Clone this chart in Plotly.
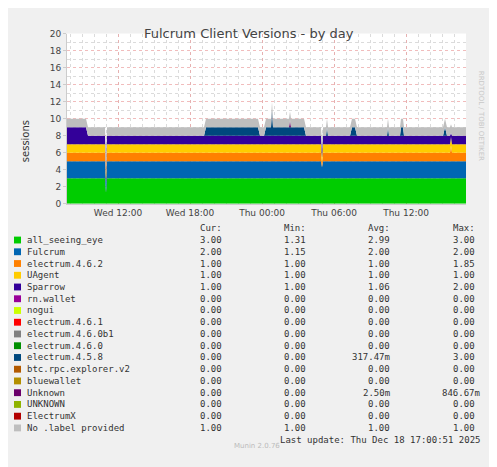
import plotly.graph_objects as go

# change points of the stacked series (5 min RRD steps)
times = ['2025-12-17 07:45', '2025-12-17 09:20', '2025-12-17 09:30', '2025-12-17 10:55', '2025-12-17 11:00',
         '2025-12-17 11:05', '2025-12-17 19:10', '2025-12-17 19:20', '2025-12-17 23:40', '2025-12-17 23:50',
         '2025-12-18 00:10', '2025-12-18 00:20', '2025-12-18 00:45', '2025-12-18 00:50', '2025-12-18 00:55',
         '2025-12-18 02:15', '2025-12-18 02:20', '2025-12-18 02:25', '2025-12-18 03:30', '2025-12-18 03:40',
         '2025-12-18 04:55', '2025-12-18 05:00', '2025-12-18 05:05', '2025-12-18 05:20', '2025-12-18 05:25',
         '2025-12-18 05:30', '2025-12-18 07:20', '2025-12-18 07:30', '2025-12-18 07:45', '2025-12-18 07:55',
         '2025-12-18 10:25', '2025-12-18 10:30', '2025-12-18 10:35', '2025-12-18 11:30', '2025-12-18 11:35',
         '2025-12-18 11:45', '2025-12-18 11:50', '2025-12-18 15:05', '2025-12-18 15:15', '2025-12-18 15:25',
         '2025-12-18 15:40', '2025-12-18 15:45', '2025-12-18 15:50', '2025-12-18 17:00']
all_seeing_eye = [3, 3, 3, 3, 1.31, 3, 3, 3, 3, 3, 3, 3, 3, 3, 3, 3, 3, 3, 3, 3, 3, 3, 3, 3, 3, 3,
                  3, 3, 3, 3, 3, 3, 3, 3, 3, 3, 3, 3, 3, 3, 3, 3, 3, 3]
fulcrum = [2, 2, 2, 2, 1.15, 2, 2, 2, 2, 2, 2, 2, 2, 2, 2, 2, 2, 2, 2, 2, 2, 1.3, 2, 2, 2, 2,
           2, 2, 2, 2, 2, 2, 2, 2, 2, 2, 2, 2, 2, 2, 2, 2, 2, 2]
electrum_462 = [1, 1, 1, 1, 0.6, 1, 1, 1, 1, 1, 1, 1, 1, 1, 1, 1, 1, 1, 1, 1, 1, 0.5, 1, 1, 1, 1,
                1, 1, 1, 1, 1, 1, 1, 1, 1, 1, 1, 1, 1, 1, 1, 1.85, 1, 1]
uagent = [1, 1, 1, 1, 0.5, 1, 1, 1, 1, 1, 1, 1, 1, 1, 1, 1, 1, 1, 1, 1, 1, 0.6, 1, 1, 1, 1,
          1, 1, 1, 1, 1, 1, 1, 1, 1, 1, 1, 1, 1, 1, 1, 1, 1, 1]
sparrow = [2, 2, 1, 1, 0.6, 1, 1, 1, 1, 1, 1, 1, 1, 1, 1, 1, 1, 1, 1, 1, 1, 0.7, 1, 1, 1, 1,
           1, 1, 1, 1, 1, 1, 1, 1, 1, 1, 1, 1, 1, 1, 1, 0.5, 1, 1]
electrum_458 = [0, 0, 0, 0, 0, 0, 0, 1, 1, 0, 0, 1, 1, 3, 1, 1, 1, 1, 1, 0, 0, 0, 0, 0, 1, 0,
                0, 1, 1, 0, 0, 1, 0, 0, 1, 1, 0, 0, 1, 0, 0, 0, 0, 0]
unknown = [0, 0, 0, 0, 0, 0, 0, 0, 0, 0, 0, 0, 0, 0, 0, 0, 0.85, 0, 0, 0, 0, 0, 0, 0, 0, 0,
           0, 0, 0, 0, 0, 0, 0, 0, 0, 0, 0, 0, 0, 0, 0, 0, 0, 0]
no_label = [1] * len(times)

series = [('all_seeing_eye', all_seeing_eye, '#00cc00'), ('Fulcrum', fulcrum, '#0066b3'),
          ('electrum.4.6.2', electrum_462, '#ff8000'), ('UAgent', uagent, '#ffcc00'),
          ('Sparrow', sparrow, '#330099'), ('electrum.4.5.8', electrum_458, '#00487d'),
          ('Unknown', unknown, '#6b006b'), ('No .label provided', no_label, '#bebebe')]

# legend table
leg_names = ['all_seeing_eye', 'Fulcrum', 'electrum.4.6.2', 'UAgent', 'Sparrow', 'rn.wallet', 'nogui',
             'electrum.4.6.1', 'electrum.4.6.0b1', 'electrum.4.6.0', 'electrum.4.5.8', 'btc.rpc.explorer.v2',
             'bluewallet', 'Unknown', 'UNKNOWN', 'ElectrumX', 'No .label provided']
leg_colors = ['#00cc00', '#0066b3', '#ff8000', '#ffcc00', '#330099', '#990099', '#ccff00', '#ff0000',
              '#808080', '#008f00', '#00487d', '#b35a00', '#b38f00', '#6b006b', '#8fb300', '#b30000', '#bebebe']
cur = ['3.00', '2.00', '1.00', '1.00', '1.00'] + ['0.00'] * 11 + ['1.00']
mins = ['1.31', '1.15', '1.00', '1.00', '1.00'] + ['0.00'] * 11 + ['1.00']
avgs = ['2.99', '2.00', '1.00', '1.00', '1.06', '0.00', '0.00', '0.00', '0.00', '0.00', '317.47m',
        '0.00', '0.00', '2.50m', '0.00', '0.00', '1.00']
maxs = ['3.00', '2.00', '1.85', '1.00', '2.00', '0.00', '0.00', '0.00', '0.00', '0.00', '3.00',
        '0.00', '0.00', '846.67m', '0.00', '0.00', '1.00']

fig = go.Figure()
for name, vals, col in series:
    fig.add_trace(go.Scatter(x=times, y=vals, name=name, stackgroup='one', mode='lines',
                             line=dict(width=0, color=col), fillcolor=col, showlegend=False))

W, H = 497, 467
O = 8  # page body margin offset
mono = 'DejaVu Sans Mono'
ann = []

def fx(x):
    return (x - O) / W

def fy(y):
    return 1 - (y - O) / H

def px(x, y, text, anchor='left', size=9, color='#333'):
    ann.append(dict(x=fx(x), y=fy(y), xref='paper', yref='paper', text=text, showarrow=False,
                    xanchor=anchor, yanchor='middle', font=dict(family=mono, size=size, color=color)))

for lab, x in [('Cur:', 224), ('Min:', 308), ('Avg:', 392), ('Max:', 477)]:
    px(x, 228, lab, 'right')
shapes = []
for i, n in enumerate(leg_names):
    y = 240 + i * 12
    shapes.append(dict(type='rect', xref='paper', yref='paper', x0=fx(14), x1=fx(21),
                       y0=fy(y + 3.5), y1=fy(y - 3.5), fillcolor=leg_colors[i], line_width=0))
    px(25, y, n)
    px(224, y, cur[i], 'right')
    px(308, y, mins[i], 'right')
    px(392, y, avgs[i], 'right')
    px(482 if maxs[i].endswith('m') else 477, y, maxs[i], 'right')
px(482, 444, 'Last update: Thu Dec 18 17:00:51 2025', 'right')
ann.append(dict(x=fx(257), y=fy(457), xref='paper', yref='paper', text='Munin 2.0.76', showarrow=False,
                font=dict(family='DejaVu Sans', size=7, color='#bbb')))
ann.append(dict(x=fx(487), y=fy(65), xref='paper', yref='paper', text='RRDTOOL / TOBI OETIKER',
                showarrow=False, textangle=90, font=dict(family='DejaVu Sans', size=7, color='#c8c8c8')))
ann.append(dict(x=fx(18), y=fy(116), xref='paper', yref='paper', text='sessions', showarrow=False,
                textangle=-90, font=dict(family='DejaVu Sans', size=10, color='#333')))
ann.append(dict(x=fx(249), y=fy(19), xref='paper', yref='paper', text='Fulcrum Client Versions - by day',
                showarrow=False, font=dict(family='DejaVu Sans', size=13, color='#444')))

fig.update_layout(
    width=W, height=H, margin=dict(l=0, r=0, t=0, b=0),
    paper_bgcolor='#f0f0f0', plot_bgcolor='white',
    annotations=ann, shapes=shapes,
    xaxis=dict(domain=[fx(67), fx(466)], range=['2025-12-17 07:45', '2025-12-18 17:00'],
               tickvals=['2025-12-17 12:00', '2025-12-17 18:00', '2025-12-18 00:00', '2025-12-18 06:00', '2025-12-18 12:00'],
               ticktext=['Wed 12:00', 'Wed 18:00', 'Thu 00:00', 'Thu 06:00', 'Thu 12:00'],
               showgrid=True, gridcolor='rgba(235,160,160,0.7)', griddash='dot', gridwidth=1,
               minor=dict(dtick=3600000, showgrid=True, gridcolor='rgba(210,210,210,0.8)', griddash='dot'),
               tickfont=dict(family='DejaVu Sans', size=9, color='#444'), zeroline=False,
               showline=True, linecolor='#ccc', layer='below traces'),
    yaxis=dict(domain=[fy(203), fy(29)], range=[0, 20], dtick=2, tickformat='d',
               showgrid=True, gridcolor='rgba(235,160,160,0.7)', griddash='dot',
               minor=dict(dtick=1, showgrid=True, gridcolor='rgba(210,210,210,0.8)', griddash='dot'),
               tickfont=dict(family='DejaVu Sans', size=9, color='#444'), zeroline=False,
               showline=True, linecolor='#ccc', ticks='outside', ticklen=3, tickcolor='#ccc'),
)
fig.write_html('out.html')
